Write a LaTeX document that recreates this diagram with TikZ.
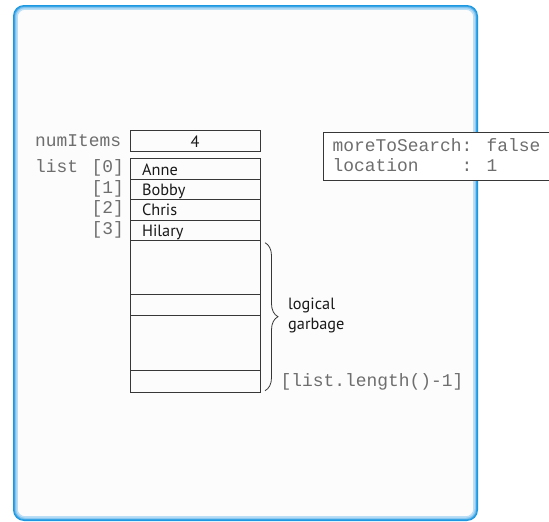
\documentclass[tikz,border=0pt]{standalone}
\usepackage{fontspec}
\setmainfont{PT Sans}
\newfontfamily\monofont{Liberation Mono}
\usetikzlibrary{decorations.pathreplacing}
\definecolor{panelblue}{RGB}{28,152,226}
\definecolor{panelglow}{RGB}{140,200,240}
\definecolor{panelfill}{RGB}{252,252,252}
\definecolor{cellline}{RGB}{55,55,55}
\definecolor{monogray}{RGB}{110,110,110}
\definecolor{textdark}{RGB}{25,25,25}
\tikzset{
  cell/.style={draw=cellline, line width=0.9pt, rectangle, anchor=north west,
    minimum width=130.2pt, inner xsep=12.2pt, inner ysep=0pt,
    text width=105.8pt, align=left, text height=12.5pt, text depth=0pt,
    font=\fontsize{16.3}{18}\selectfont, text=textdark},
  mono/.style={inner sep=0pt, font=\monofont\fontsize{17.9}{20}\selectfont, text=monogray},
  sanstext/.style={inner sep=0pt, font=\fontsize{16.3}{20.5}\selectfont, text=textdark}
}
\begin{document}
\begin{tikzpicture}[x=1pt,y=-1pt]
\useasboundingbox (0,0) rectangle (549,522);
\fill[white] (0,0) rectangle (549,522);
% panel
\fill[panelfill, rounded corners=11pt] (13,5) rectangle (478,521);
\draw[panelglow!60, line width=2pt, rounded corners=8pt] (16.8,8.8) rectangle (474.2,517.2);
\draw[panelglow, line width=1.5pt, rounded corners=9pt] (15.5,7.5) rectangle (475.5,518.5);
\draw[panelblue!85, line width=1.2pt, rounded corners=10pt] (14.4,6.4) rectangle (476.6,519.6);
\draw[panelblue, line width=1.2pt, rounded corners=10.5pt] (13.6,5.6) rectangle (477.4,520.4);

% numItems
\node[mono, anchor=base west] (numlbl) at (35,146.7) {numItems};
\node[cell, minimum height=20.7pt, align=center, text height=12.5pt, text depth=0pt] (num) at (129.5,130) {4};

% list
\node[mono, anchor=base west] (listlbl) at (35,172.7) {list};
\node[cell, minimum height=20.7pt] (c0) at (129.5,158) {Anne};
\node[cell, minimum height=20.3pt] (c1) at (129.5,178.7) {Bobby};
\node[cell, minimum height=20.5pt] (c2) at (129.5,199) {Chris};
\node[cell, minimum height=20.5pt] (c3) at (129.5,219.5) {Hilary};
\node[cell, minimum height=54.3pt] (g1) at (129.5,240) {};
\node[cell, minimum height=21pt] (g2) at (129.5,294.3) {};
\node[cell, minimum height=55pt] (g3) at (129.5,315.3) {};
\node[cell, minimum height=21.4pt] (g4) at (129.5,370.3) {};

\node[mono, anchor=base east] (i0) at (124,172.7) {[0]};
\node[mono, anchor=base east] (i1) at (124,193.3) {[1]};
\node[mono, anchor=base east] (i2) at (124,213.7) {[2]};
\node[mono, anchor=base east] (i3) at (124,234.2) {[3]};

% brace
\coordinate (bt) at (265,242.7);
\coordinate (bb) at (265,390.7);
\draw[cellline, line width=0.8pt, decorate, decoration={brace, amplitude=13pt}] (bt) -- (bb);
\node[sanstext, anchor=north west, align=left] (garb) at (288,297.5) {logical\\garbage};
\node[mono, anchor=base west] (last) at (280.5,386) {[list.length()-1]};

% state box
\node[fill=white, inner sep=0pt, anchor=north west, minimum width=225.7pt, minimum height=47.7pt] (state) at (323.3,132.3) {};
\draw[cellline, line width=0.9pt] (state.north east) -- (state.north west) -- (state.south west) -- (state.south east);
\node[mono, anchor=base west] (mts) at (332.5,151.7) {moreToSearch: false};
\node[mono, anchor=base west] (loc) at (332.5,171.7) {location\ \ \ \ : 1};
\end{tikzpicture}
\end{document}
